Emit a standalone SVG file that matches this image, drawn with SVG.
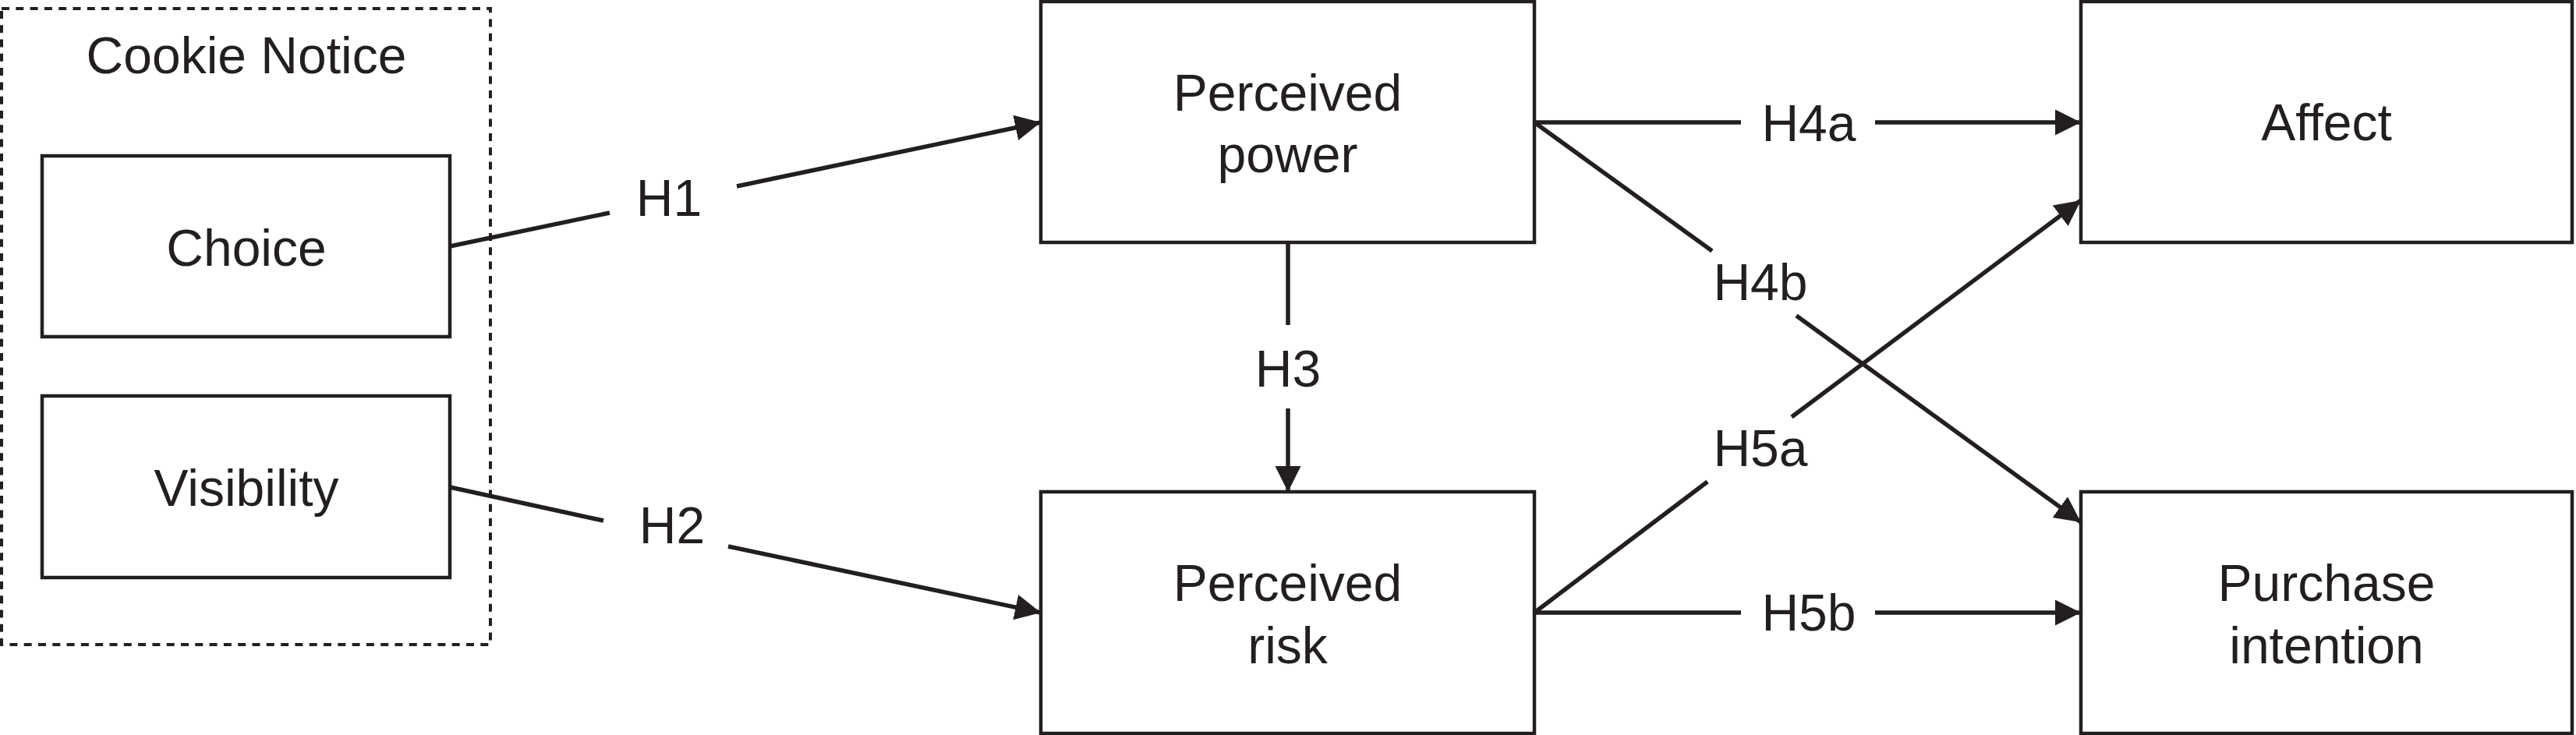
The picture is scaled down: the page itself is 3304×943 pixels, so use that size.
<svg xmlns="http://www.w3.org/2000/svg" width="3304" height="943" viewBox="0 0 3304 943">
<style>
.box{fill:#ffffff;stroke:#231f20;stroke-width:4.5}
.group{fill:none;stroke:#231f20;stroke-width:4;stroke-dasharray:10 8.3}
.t{font-family:"Liberation Sans",Arial,Helvetica,sans-serif;font-size:66px;fill:#231f20;text-anchor:middle}
.c{fill:none;stroke:#231f20;stroke-width:5.5}
</style>
<defs>
<marker id="arr" markerUnits="userSpaceOnUse" markerWidth="34" markerHeight="34" refX="33" refY="16.5" orient="auto">
<path d="M0,0 L33,16.5 L0,33 z" fill="#231f20"/>
</marker>
</defs>
<rect width="3304" height="943" fill="#ffffff"/>
<g id="cookie-notice">
<rect class="group" x="2" y="11" width="627" height="816"/>
<text class="t" x="316" y="94">Cookie Notice</text>
</g>
<g id="choice">
<rect class="box" x="54" y="200" width="523" height="232"/>
<text class="t" x="316" y="341">Choice</text>
</g>
<g id="visibility">
<rect class="box" x="54" y="508" width="523" height="233"/>
<text class="t" x="316" y="649">Visibility</text>
</g>
<g id="perceived-power">
<rect class="box" x="1335" y="2" width="633" height="309"/>
<text class="t" x="1651.5" y="142">Perceived</text>
<text class="t" x="1651.5" y="221">power</text>
</g>
<g id="perceived-risk">
<rect class="box" x="1335" y="631" width="633" height="310"/>
<text class="t" x="1651.5" y="771">Perceived</text>
<text class="t" x="1651.5" y="851">risk</text>
</g>
<g id="affect">
<rect class="box" x="2669" y="2" width="630" height="309"/>
<text class="t" x="2984" y="180">Affect</text>
</g>
<g id="purchase-intention">
<rect class="box" x="2669" y="631" width="630" height="310"/>
<text class="t" x="2984" y="771">Purchase</text>
<text class="t" x="2984" y="851">intention</text>
</g>
<g id="connectors">
<line class="c" x1="577" y1="316" x2="782" y2="273"/>
<line class="c" x1="945" y1="239" x2="1335" y2="157" marker-end="url(#arr)"/>
<text class="t" x="858" y="277">H1</text>
<line class="c" x1="577" y1="625" x2="774" y2="668"/>
<line class="c" x1="934" y1="701" x2="1335" y2="786" marker-end="url(#arr)"/>
<text class="t" x="862" y="697">H2</text>
<line class="c" x1="1652" y1="311" x2="1652" y2="417"/>
<line class="c" x1="1652" y1="524" x2="1652" y2="631" marker-end="url(#arr)"/>
<text class="t" x="1652" y="496">H3</text>
<line class="c" x1="1968" y1="157" x2="2233" y2="157"/>
<line class="c" x1="2405" y1="157" x2="2669" y2="157" marker-end="url(#arr)"/>
<text class="t" x="2320" y="181">H4a</text>
<line class="c" x1="1968" y1="157" x2="2196" y2="322"/>
<line class="c" x1="2304" y1="405" x2="2669" y2="670" marker-end="url(#arr)"/>
<text class="t" x="2258" y="385">H4b</text>
<line class="c" x1="1968" y1="786" x2="2190" y2="618"/>
<line class="c" x1="2298" y1="535" x2="2669" y2="257" marker-end="url(#arr)"/>
<text class="t" x="2258" y="598">H5a</text>
<line class="c" x1="1968" y1="786" x2="2233" y2="786"/>
<line class="c" x1="2405" y1="786" x2="2669" y2="786" marker-end="url(#arr)"/>
<text class="t" x="2320" y="809">H5b</text>
</g>
</svg>
